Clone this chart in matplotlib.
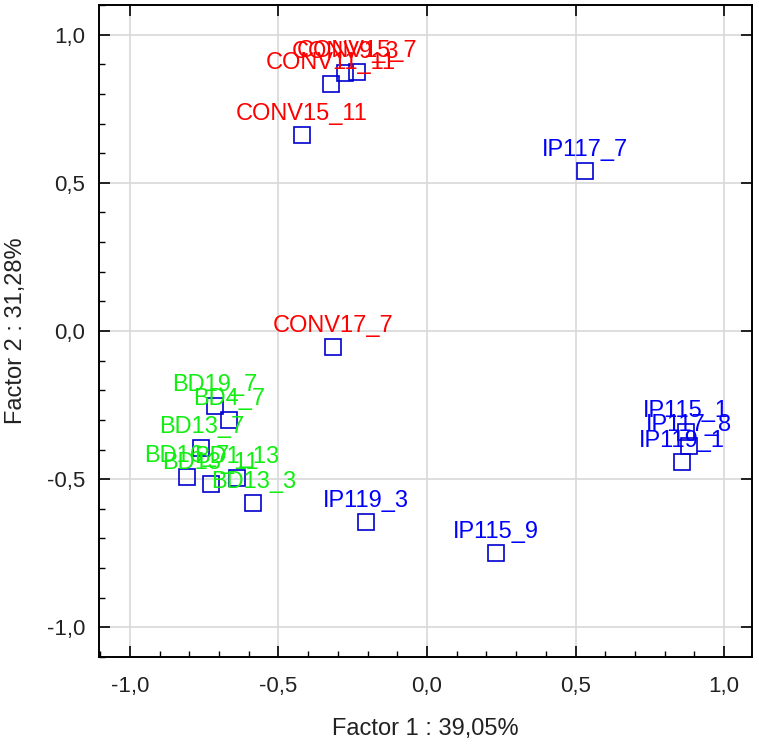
import matplotlib
matplotlib.use('Agg')
import matplotlib.pyplot as plt
from matplotlib.ticker import FixedLocator, FixedFormatter, MultipleLocator

plt.rcParams['font.family'] = ['Liberation Sans', 'DejaVu Sans']

# ---- data ----
names = ['CONV17_7', 'CONV15_11', 'CONV11_11', 'CONV9_3', 'CONV15_7',
         'IP117_7', 'IP119_3', 'IP115_9', 'IP115_1', 'IP117_8', 'IP119_1',
         'BD19_7', 'BD4_7', 'BD13_7', 'BD16_7', 'BD13_11', 'BD1_13', 'BD13_3']
factor1 = [-0.316, -0.421, -0.324, -0.276, -0.235,
           0.532, -0.205, 0.232, 0.872, 0.882, 0.858,
           -0.714, -0.666, -0.759, -0.809, -0.728, -0.641, -0.585]
factor2 = [-0.054, 0.661, 0.833, 0.869, 0.875,
           0.540, -0.644, -0.749, -0.341, -0.388, -0.442,
           -0.252, -0.300, -0.396, -0.491, -0.517, -0.497, -0.581]
groups = ['CONV'] * 5 + ['IP'] * 6 + ['BD'] * 7

tick_values = [-1.0, -0.5, 0.0, 0.5, 1.0]
tick_labels = ['-1,0', '-0,5', '0,0', '0,5', '1,0']
xlabel = 'Factor 1 : 39,05%'
ylabel = 'Factor 2 : 31,28%'

group_colors = {'CONV': '#ff0000', 'IP': '#0000ff', 'BD': '#11ee11'}

fig = plt.figure(figsize=(7.59, 7.48), dpi=100)
ax = fig.add_axes([99 / 759, 1 - 657 / 748, (752 - 99) / 759, (657 - 5) / 748])

ax.set_axisbelow(True)
ax.grid(True, color='#d8d8d8', linewidth=1.2)

ax.plot(factor1, factor2, linestyle='none', marker='s', markerfacecolor='none',
        markeredgecolor='#0000d0', markersize=11, markeredgewidth=1.2, zorder=3)

for n, x, y, g in zip(names, factor1, factor2, groups):
    ax.annotate(n, (x, y), xytext=(0, 15), textcoords='offset pixels',
                ha='center', va='baseline', color=group_colors[g],
                fontsize=17, zorder=4)

ax.set_xlim(-1.104, 1.094)
ax.set_ylim(-1.1, 1.1)
ax.xaxis.set_major_locator(FixedLocator(tick_values))
ax.xaxis.set_major_formatter(FixedFormatter(tick_labels))
ax.yaxis.set_major_locator(FixedLocator(tick_values))
ax.yaxis.set_major_formatter(FixedFormatter(tick_labels))
ax.xaxis.set_minor_locator(MultipleLocator(0.1))
ax.yaxis.set_minor_locator(MultipleLocator(0.1))

ax.tick_params(which='major', direction='in', length=8, width=1.2,
               top=True, right=True, labelsize=16, colors='black',
               labelcolor='#222222')
ax.tick_params(axis='x', which='major', pad=14)
ax.tick_params(axis='y', which='major', pad=10)
ax.tick_params(which='minor', direction='in', length=4.5, width=1.0,
               top=False, right=False)
for s in ax.spines.values():
    s.set_linewidth(1.4)
    s.set_color('black')

ax.set_xlabel(xlabel, fontsize=17, color='#222222', labelpad=15)
ax.set_ylabel(ylabel, fontsize=17, color='#222222', labelpad=14)

fig.savefig('out.png', dpi=100)
